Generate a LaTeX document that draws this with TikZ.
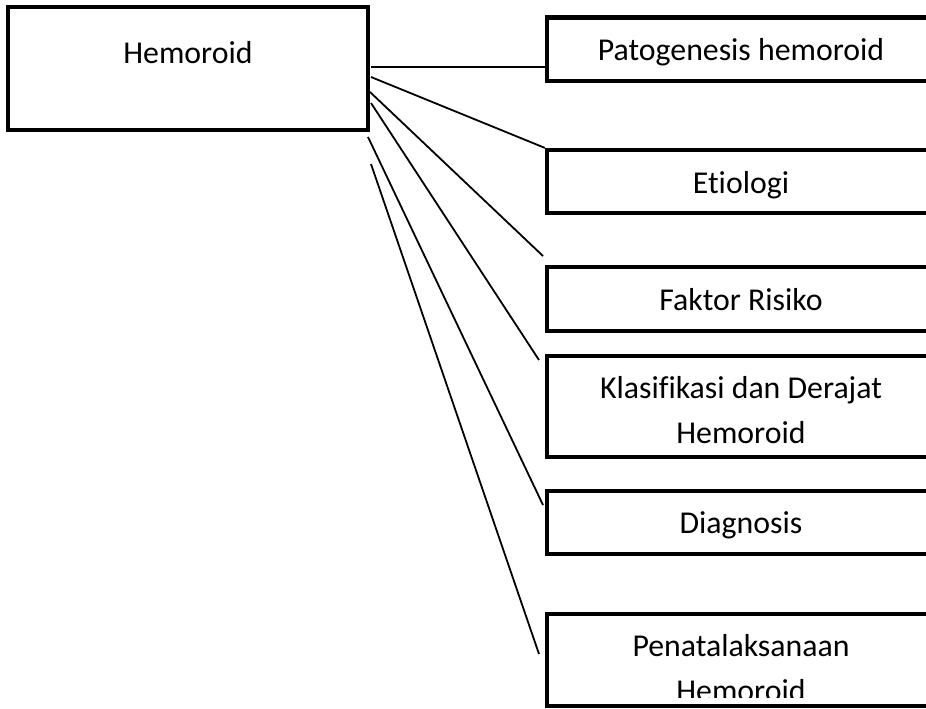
\documentclass[tikz,border=0pt]{standalone}
\usepackage{fontspec}
\setmainfont{Carlito}[Ligatures=NoCommon]
\begin{document}
\begin{tikzpicture}[x=0.5pt, y=-0.5pt,
        box/.style={draw, line width=2.1pt, minimum width=194pt, inner sep=0pt},
        txt/.style={anchor=base, align=center, inner sep=0pt,
            font=\fontsize{15.9pt}{22.5pt}\selectfont},
        link/.style={line width=0.9pt}]
    \clip (0,0) rectangle (926,708);
    \fill[white] (0,0) rectangle (926,708);

    \node[box, line width=2pt, minimum width=180pt, minimum height=61.5pt] (hemo) at (188,68.5) {};
    \node[txt] (hemotxt) at (188,63) {Hemoroid};

    \node[box, minimum height=31.75pt] (pato) at (741,49.25) {};
    \node[txt] (patotxt) at (741,60) {Patogenesis hemoroid};
    \node[box, minimum height=31.5pt] (etio) at (741,181.5) {};
    \node[txt] (etiotxt) at (741,193) {Etiologi};
    \node[box, minimum height=32pt] (fakt) at (741,299) {};
    \node[txt] (fakttxt) at (741,310) {Faktor Risiko};
    \node[box, minimum height=50.5pt] (klas) at (741,406.5) {};
    \node[txt] (klastxt) at (741,443) {Klasifikasi dan Derajat\\Hemoroid};
    \node[box, minimum height=31.5pt] (diag) at (741,522.5) {};
    \node[txt] (diagtxt) at (741,533) {Diagnosis};
    \node[box, minimum height=46pt] (pena) at (741,660) {};
    \begin{scope}
        \clip (549,616) rectangle (935,697);
        \node[txt] (penatxt) at (741,701) {Penatalaksanaan\\Hemoroid};
    \end{scope}

    \coordinate (h1) at (371,67);
    \coordinate (h2) at (371,77);
    \coordinate (h3) at (370,92);
    \coordinate (h4) at (371,103);
    \coordinate (h5) at (368,137);
    \coordinate (h6) at (371,164);
    \coordinate (e3) at (543,256);
    \coordinate (e4) at (539,360);
    \coordinate (e5) at (543,505);
    \coordinate (e6) at (539,654);

    \draw[link] (h1) -- (pato.west |- h1);
    \draw[link] (h2) -- (etio.north west);
    \draw[link] (h3) -- (e3);
    \draw[link] (h4) -- (e4);
    \draw[link] (h5) -- (e5);
    \draw[link] (h6) -- (e6);
\end{tikzpicture}
\end{document}
